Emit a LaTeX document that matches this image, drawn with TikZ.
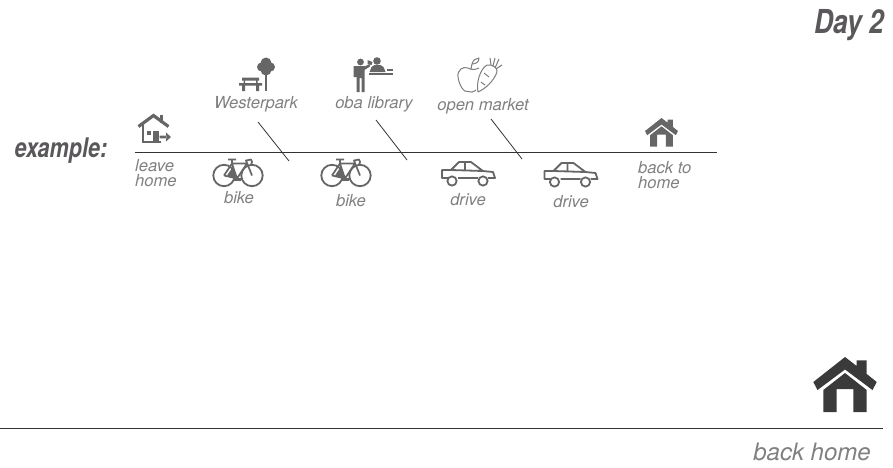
\documentclass[tikz,border=0pt]{standalone}
\usepackage{fontspec}
\setmainfont{TeX Gyre Heros}
\newfontfamily\headfont[FakeStretch=0.8]{TeX Gyre Heros}
\usepackage{xcolor}
\usetikzlibrary{positioning}
\definecolor{icongray}{HTML}{666666}
\definecolor{textgray}{HTML}{808080}
\definecolor{headgray}{HTML}{5A585A}
\definecolor{homedark}{HTML}{3A3A3A}
\tikzset{
label text/.style={text=textgray, font=\itshape\fontsize{16.6}{15}\selectfont, inner sep=0pt},
left text/.style={label text, align=left, anchor=west},
head text/.style={text=headgray, font=\headfont\bfseries\itshape\fontsize{33}{33}\selectfont, inner sep=0pt},
rule line/.style={draw=black!80, line width=0.8pt},
pics/homeicon/.style={code={
  \fill[#1] (0,0) -- (-31.7,25) -- (-27.5,33) -- (0,12.5) -- (27.5,33) -- (31.7,25) -- (21.7,17)
    -- (21.7,3.3) -- (11.7,3.3) -- (11.7,9) -- cycle;
  \fill[#1] (-21.7,33) -- (0,16) -- (21.7,33) -- (21.7,55) -- (8.3,55) -- (8.3,32) -- (-8.3,32)
    -- (-8.3,55) -- (-21.7,55) -- cycle;
}},
pics/leaveicon/.style={code={
  \draw[icongray, line width=3.2pt, line join=miter] (-16,11.5) -- (-1,0.5) -- (14,11.5);
  \fill[icongray] (5.5,0) rectangle (8.5,8);
  \draw[icongray, line width=2.8pt] (-11.5,10) -- (-11.5,27) -- (6,27);
  \fill[icongray] (-7.5,16) rectangle (-3.5,20);
  \fill[icongray] (-1.5,16) rectangle (4.5,28);
  \fill[icongray] (5,20.6) rectangle (12,23.4) (11.5,17.5) -- (16.5,22) -- (11.5,26.5) -- cycle;
}},
pics/bikeicon/.style={code={
  \draw[icongray, line width=1.8pt] (-14,1) circle (10.7) (14,1) circle (10.7);
  \draw[icongray, line width=1.7pt, line join=round] (-14,1) -- (-6,-11) -- (9,-11) -- (-1,4) -- (-14,1)
    (-6,-11) -- (-1,4) (14,1) -- (8,-14) -- (13,-15) to[bend left=50] (13,-10) (-10,-15) -- (-2,-15) (-6,-15) -- (-6,-11);
  \fill[icongray] (-11,1) -- (-5,-8) -- (-1,4) -- cycle;
  \fill[icongray] (-5,3) rectangle (3,6);
}},
pics/caricon/.style={code={
  \draw[icongray, line width=1.8pt, line join=round] (-20,5) -- (-26,5) -- (-26,-3) -- (-17,-3) -- (-9,-11) -- (3,-11)
    -- (15,-2) -- (25,-1) -- (27,5) -- (20,5) (10,5) -- (-10,5) (-17,-3) -- (15,-2) (-3,-11) -- (-3,-3);
  \draw[icongray, line width=1.8pt] (-16,8) circle (4.6) (15,8) circle (4.6);
}},
pics/parkicon/.style={code={
  \fill[icongray] (17,-12) circle (5.5) (21.5,-8) circle (4.5) (12.5,-8) circle (4.5) (17,-5) circle (5.5);
  \fill[icongray] (15.7,-6) rectangle (18.3,16);
  \fill[icongray] (-7,2.5) rectangle (10,5.5) (-10,8) rectangle (13,10.5) (-7,10) rectangle (-4,16) (7,10) rectangle (10,16);
  \fill[icongray] (-5.5,5) rectangle (-4,8) (7,5) rectangle (8.5,8);
}},
pics/libraryicon/.style={code={
  \fill[icongray] (0,-13) circle (3.4);
  \fill[icongray] (-7,-9) -- (3,-9) -- (5,-9) -- (9,-11) -- (9.5,-8.5) -- (4,-5) -- (4,17) -- (1,17) -- (1,3) -- (-1,3)
    -- (-1,17) -- (-4,17) -- (-4,2) -- (-7,2) -- cycle;
  \fill[icongray] (7,-15) -- (12,-13) -- (11,-10) -- (7,-11) -- cycle;
  \fill[icongray] (16.5,-14) circle (3.8);
  \fill[icongray] (9,-3) -- (11,-8) -- (14,-10) -- (20,-10) -- (23,-8) -- (25,-3) -- cycle;
  \fill[icongray] (8,-2.5) rectangle (32,0);
  \fill[icongray] (26,-6.5) rectangle (32,-3.8);
}},
pics/marketicon/.style={code={
  \draw[icongray!85, line width=1pt, line join=round] (-11,-10) .. controls (-16,-12) and (-22,-8) .. (-21,-1)
    .. controls (-20,7) and (-15,15) .. (-11,13.5) .. controls (-8,15) and (-6,14) .. (-3,12)
    (-11,-10) .. controls (-8,-8) and (-4,-8) .. (0,-10) (-8,-9) -- (-7,-14);
  \draw[icongray!85, line width=1pt, line join=round] (-7,-14) .. controls (-6,-18) and (-3,-20) .. (0,-20)
    .. controls (0,-16) and (-3,-14) .. (-7,-14);
  \draw[icongray!85, line width=1pt, line join=round] (-1,14) .. controls (-3,5) and (1,-9) .. (8,-13)
    .. controls (13,-14) and (19,-10) .. (18,-6) .. controls (15,3) and (6,11) .. (-1,14)
    (2,4) -- (6,7) (5,-5) -- (10,-1) (12,-13) -- (11,-20) (14,-12) -- (16,-20) (16,-10) -- (20,-19) (17,-9) -- (23,-13);
}}
}
\begin{document}
\begin{tikzpicture}[x=1pt, y=-1pt]
\useasboundingbox (0,0) rectangle (893,467);
% main time line
\coordinate (lineL) at (135,152);
\coordinate (lineR) at (717,152);
\draw[rule line] (lineL) -- (lineR);
\coordinate (parkA) at (258,122);
\coordinate (parkB) at (289,161);
\coordinate (libA) at (376,120);
\coordinate (libB) at (407,160);
\coordinate (marketA) at (491,119);
\coordinate (marketB) at (522,159);
\draw[rule line] (parkA) -- (parkB);
\draw[rule line] (libA) -- (libB);
\draw[rule line] (marketA) -- (marketB);
\coordinate (backL) at (0,428);
\coordinate (backR) at (883,428);
\draw[rule line] (backL) -- (backR);
% icons
\pic (leaveicon) at (154.5,115) {leaveicon};
\pic (bikeA) at (238,174.5) {bikeicon};
\pic (bikeB) at (346,174.5) {bikeicon};
\pic (carA) at (468,173) {caricon};
\pic (carB) at (570.5,174) {caricon};
\pic (parkicon) at (249,75) {parkicon};
\pic (libicon) at (360.5,75) {libraryicon};
\pic (marketicon) at (479,78) {marketicon};
\pic[scale=0.52] (homeA) at (661.5,118) {homeicon=icongray};
\pic (homeB) at (845,357) {homeicon=homedark};
% texts
\node[head text] (day) at (849,25) {Day 2};
\node[head text, font=\headfont\bfseries\itshape\fontsize{27}{27}\selectfont] (example) at (61,150.5) {example:};
\node[label text] (westerpark) at (256,104) {Westerpark};
\node[label text] (library) at (374,104) {oba library};
\node[label text] (market) at (483,106) {open market};
\node[left text] (leave) at (135,173.5) {leave\\home};
\node[left text] (backto) at (638,175.5) {back to\\home};
\node[label text] (bikeAtxt) at (239,198) {bike};
\node[label text] (bikeBtxt) at (351,201) {bike};
\node[label text] (driveA) at (468,200) {drive};
\node[label text] (driveB) at (571,202) {drive};
\node[label text, font=\itshape\fontsize{24}{24}\selectfont] (backhome) at (812,452) {back home};
\end{tikzpicture}
\end{document}
